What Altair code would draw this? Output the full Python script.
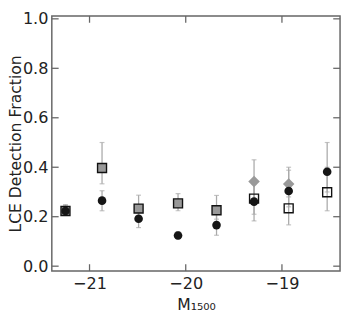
import altair as alt
import pandas as pd

# ---- data ----
mag = [-21.25, -20.87, -20.49, -20.08, -19.68, -19.29, -18.93, -18.53]

circ_val = [0.223, 0.265, 0.192, 0.124, 0.166, 0.261, 0.304, 0.382]
circ_lo = [0.205, 0.224, 0.156, 0.110, 0.125, 0.183, 0.240, 0.300]
circ_hi = [0.245, 0.305, 0.230, 0.140, 0.210, 0.340, 0.388, 0.500]

gsq_mag = mag[:5]
gsq_val = [0.223, 0.397, 0.233, 0.254, 0.226]
gsq_lo = [0.206, 0.333, 0.200, 0.224, 0.190]
gsq_hi = [0.249, 0.500, 0.287, 0.293, 0.286]

osq_mag = mag[5:]
osq_val = [0.273, 0.234, 0.299]
osq_lo = [0.210, 0.167, 0.224]
osq_hi = [0.330, 0.300, 0.400]

dia_mag = mag[5:7]
dia_val = [0.342, 0.332]
dia_lo = [0.270, 0.280]
dia_hi = [0.430, 0.400]

x_ticks = [-21, -20, -19]
y_ticks = [0.0, 0.2, 0.4, 0.6, 0.8, 1.0]

W, H = 296, 262
FONT = "DejaVu Sans"
FRAME = "#666666"
ERR = "#aaaaaa"

xs = alt.Scale(domain=[-21.392, -18.396], nice=False, zero=False)
ys = alt.Scale(domain=[-0.0197, 1.0118], nice=False, zero=False)

xaxis = alt.Axis(values=x_ticks, format="d", ticks=False, domain=False, grid=False,
                 labelFont=FONT, labelFontSize=16.5, labelColor="#222222", labelPadding=5,
                 title="M₁₅₀₀", titleFont=FONT, titleFontSize=16, titleFontWeight="normal",
                 titleColor="#222222", titlePadding=5)
yaxis = alt.Axis(values=y_ticks, format=".1f", ticks=False, domain=False, grid=False,
                 labelFont=FONT, labelFontSize=16.5, labelColor="#222222", labelPadding=4,
                 title="LCE Detection Fraction", titleFont=FONT, titleFontSize=16,
                 titleFontWeight="normal", titleColor="#222222",
                 titleX=-45, titleBaseline="top", titleAlign="center", titleAngle=270)


def X(f):
    return alt.X(f"{f}:Q", scale=xs, axis=xaxis, title="M₁₅₀₀")


def Y(f):
    return alt.Y(f"{f}:Q", scale=ys, axis=yaxis, title="LCE Detection Fraction")


def frame(m, v, lo, hi):
    return pd.DataFrame({"x": m, "v": v, "lo": lo, "hi": hi})


circ = frame(mag, circ_val, circ_lo, circ_hi)
gsq = frame(gsq_mag, gsq_val, gsq_lo, gsq_hi)
osq = frame(osq_mag, osq_val, osq_lo, osq_hi)
dia = frame(dia_mag, dia_val, dia_lo, dia_hi)
allerr = pd.concat([circ, gsq, osq, dia], ignore_index=True)

err_rule = alt.Chart(allerr).mark_rule(color=ERR, strokeWidth=1.3).encode(
    x=X("x"), y=Y("lo"), y2="hi")
cap_lo = alt.Chart(allerr).mark_tick(color=ERR, orient="horizontal", size=5, thickness=1.2).encode(
    x=X("x"), y=Y("lo"))
cap_hi = alt.Chart(allerr).mark_tick(color=ERR, orient="horizontal", size=5, thickness=1.2).encode(
    x=X("x"), y=Y("hi"))

gsq_pts = alt.Chart(gsq).mark_point(shape="square", filled=True, fill="#999999",
                                   stroke="#111111", strokeWidth=1.4, size=85, opacity=1).encode(
    x=X("x"), y=Y("v"))
dia_pts = alt.Chart(dia).mark_point(shape="diamond", filled=True, fill="#999999",
                                   size=140, opacity=1).encode(x=X("x"), y=Y("v"))
osq_pts = alt.Chart(osq).mark_point(shape="square", filled=False, stroke="#111111",
                                   strokeWidth=1.4, size=85, opacity=1).encode(
    x=X("x"), y=Y("v"))
circ_pts = alt.Chart(circ).mark_point(shape="circle", filled=True, fill="#151515",
                                     size=78, opacity=1).encode(x=X("x"), y=Y("v"))

# inside ticks on all four sides
xt = pd.DataFrame({"t": x_ticks})
yt = pd.DataFrame({"t": y_ticks})
TL = 7
tick_b = alt.Chart(xt).mark_rule(color=FRAME, strokeWidth=1.3).encode(
    x=X("t"), y=alt.value(H), y2=alt.value(H - TL))
tick_t = alt.Chart(xt).mark_rule(color=FRAME, strokeWidth=1.3).encode(
    x=X("t"), y=alt.value(0), y2=alt.value(TL))
tick_l = alt.Chart(yt).mark_rule(color=FRAME, strokeWidth=1.3).encode(
    y=Y("t"), x=alt.value(0), x2=alt.value(TL))
tick_r = alt.Chart(yt).mark_rule(color=FRAME, strokeWidth=1.3).encode(
    y=Y("t"), x=alt.value(W), x2=alt.value(W - TL))

chart = alt.layer(
    tick_b, tick_t, tick_l, tick_r,
    err_rule, cap_lo, cap_hi,
    gsq_pts, dia_pts, osq_pts, circ_pts,
).properties(
    width=W, height=H,
    autosize=alt.AutoSizeParams(type="none"),
    padding={"left": 45, "top": 4, "right": 2, "bottom": 41},
).configure_view(stroke=FRAME, strokeWidth=1.5)

chart.save("out.html", embed_options={"renderer": "svg", "actions": False})
